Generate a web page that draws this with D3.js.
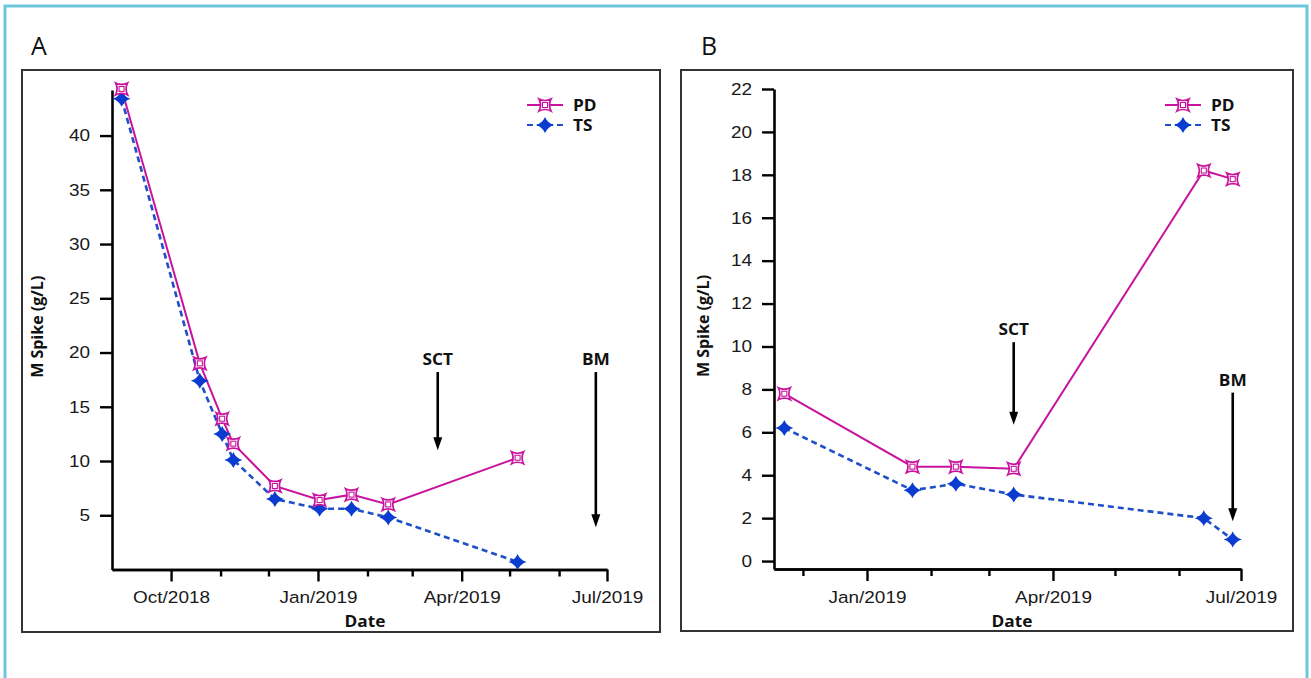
<!DOCTYPE html>
<html>
<head>
<meta charset="utf-8">
<script src="https://cdn.jsdelivr.net/npm/d3@7"></script>
<style>
	body{ margin:0; background:#ffffff; }
</style>
</head>
<body>
<div id="chart"></div>
<script>
"use strict";

// =============== DATA ===============
// panel A
var datesA = ["2018-08-31", "2018-10-19", "2018-11-02", "2018-11-09", "2018-12-05",
	"2019-01-02", "2019-01-22", "2019-02-14", "2019-05-06"];
var pdA = [44.3, 19.0, 13.9, 11.6, 7.7, 6.4, 6.9, 6.0, 10.3];
var tsA = [43.4, 17.4, 12.5, 10.1, 6.5, 5.6, 5.6, 4.8, 0.7];
var eventNamesA = ["SCT", "BM"];
var eventDatesA = ["2019-03-17", "2019-06-24"];
var yTicksA = [5, 10, 15, 20, 25, 30, 35, 40];

// panel B
var datesB = ["2018-11-22", "2019-01-23", "2019-02-13", "2019-03-13", "2019-06-13", "2019-06-27"];
var pdB = [7.8, 4.4, 4.4, 4.3, 18.2, 17.8];
var tsB = [6.2, 3.3, 3.6, 3.1, 2.0, 1.0];
var eventNamesB = ["SCT", "BM"];
var eventDatesB = ["2019-03-13", "2019-06-27"];
var yTicksB = [0, 2, 4, 6, 8, 10, 12, 14, 16, 18, 20, 22];

var seriesNames = ["PD", "TS"];
var xTickLabels = ["Oct/2018", "Jan/2019", "Apr/2019", "Jul/2019"];

// =============== STYLE ===============
var pdColor = "#c8139d",
	tsColor = "#0a3cd0",
	tsLineColor = "#1f4fc8",
	boxColor = "#333333",
	frameColor = "#6cc7dd",
	tickFont = "'Liberation Sans', Arial, sans-serif",
	boldFont = "'Open Sans', sans-serif",
	stretch = 1.15;

var parseDate = d3.timeParse("%Y-%m-%d");
var fmtDate = d3.timeFormat("%b/%Y");

var svg = d3.select("#chart").append("svg")
	.attr("width", 1311)
	.attr("height", 678);

// light blue outer frame (bottom edge runs off the page)
svg.append("rect")
	.attr("x", 5).attr("y", 6)
	.attr("width", 1302).attr("height", 720)
	.style("fill", "none")
	.style("stroke", frameColor)
	.style("stroke-width", 3);

// marker shapes
var pdMarkerPath = "M-6,-6 Q0,-3 6,-6 Q3,0 6,6 Q0,3 -6,6 Q-3,0 -6,-6 Z";
var tsMarkerPath = "M0,-8 Q2.3,-2.3 9,0 Q2.3,2.3 0,8 Q-2.3,2.3 -9,0 Q-2.3,-2.3 0,-8 Z";

function drawPdMarker(sel){
	sel.append("path")
		.attr("d", pdMarkerPath)
		.style("fill", "#ffffff")
		.style("stroke", pdColor)
		.style("stroke-width", 1.7);
	sel.append("rect")
		.attr("x", -2.5).attr("y", -2.5)
		.attr("width", 5).attr("height", 5)
		.style("fill", "none")
		.style("stroke", pdColor)
		.style("stroke-width", 1.1);
}

function drawTsMarker(sel){
	sel.append("path")
		.attr("d", tsMarkerPath)
		.style("fill", tsColor);
}

// =============== PANELS ===============
var panels = [
	{
		letter: "A", letterX: 31, box: [22, 70, 660, 632],
		dates: datesA, pd: pdA, ts: tsA,
		eventNames: eventNamesA, eventDates: eventDatesA,
		// arrow extents in data units: [label, top, tip]
		arrows: [[19.4, 18.2, 11.0], [19.4, 18.2, 3.9]],
		yTicks: yTicksA, yDomain: [0, 44.2],
		xDomain: ["2018-08-25", "2019-07-01"],
		left: 112, right: 607, top: 90, bottom: 569.5,
		legendX: 527, legendY: 105,
		yTitleX: 37, dateX: 365
	},
	{
		letter: "B", letterX: 701, box: [681, 70, 1293, 631],
		dates: datesB, pd: pdB, ts: tsB,
		eventNames: eventNamesB, eventDates: eventDatesB,
		arrows: [[10.8, 10.2, 6.35], [8.4, 7.85, 1.85]],
		yTicks: yTicksB, yDomain: [-0.37, 22],
		xDomain: ["2018-11-17", "2019-07-01"],
		left: 774, right: 1241, top: 89, bottom: 569,
		legendX: 1165, legendY: 105,
		yTitleX: 703, dateX: 1012
	}
];

panels.forEach(drawPanel);

function drawPanel(p){
	var g = svg.append("g");

	// panel box
	g.append("rect")
		.attr("x", p.box[0]).attr("y", p.box[1])
		.attr("width", p.box[2] - p.box[0])
		.attr("height", p.box[3] - p.box[1])
		.style("fill", "none")
		.style("stroke", boxColor)
		.style("stroke-width", 2);

	g.append("text")
		.attr("x", p.letterX).attr("y", 55)
		.style("font-family", "'Open Sans', sans-serif")
		.style("font-size", "25px")
		.style("fill", "#111")
		.text(p.letter);

	var x = d3.scaleTime()
		.domain([parseDate(p.xDomain[0]), parseDate(p.xDomain[1])])
		.range([p.left, p.right]);
	var y = d3.scaleLinear()
		.domain(p.yDomain)
		.range([p.bottom, p.top]);

	// ---- x axis: monthly minor ticks, quarterly labelled ticks
	var months = d3.timeMonth.range(parseDate("2018-09-02"), parseDate("2019-07-02"))
		.filter(function(d){ return x(d) > p.left + 2; });
	var majors = xTickLabels.map(function(s){ return d3.timeParse("%b/%Y")(s); })
		.filter(function(d){ return x(d) >= p.left; });
	var minors = months.filter(function(d){ return d.getMonth() % 3 != 0; });

	var xMinor = g.append("g")
		.attr("transform", "translate(0," + p.bottom + ")")
		.call(d3.axisBottom(x).tickValues(minors).tickSize(7).tickSizeOuter(0).tickFormat(""));
	var xMajor = g.append("g")
		.attr("transform", "translate(0," + p.bottom + ")")
		.call(d3.axisBottom(x).tickValues(majors).tickSize(12).tickSizeOuter(0)
			.tickPadding(10).tickFormat(fmtDate));

	// ---- y axis
	var yAxis = g.append("g")
		.attr("transform", "translate(" + p.left + ",0)")
		.call(d3.axisLeft(y).tickValues(p.yTicks).tickSize(12).tickSizeOuter(0).tickPadding(7));

	[xMinor, xMajor, yAxis].forEach(function(a){
		a.select(".domain").style("stroke", "#000").style("stroke-width", 2.6);
		a.selectAll(".tick line").style("stroke", "#000").style("stroke-width", 2.4);
		a.selectAll(".tick text")
			.style("font-family", tickFont)
			.style("font-size", "16.5px")
			.style("fill", "#1a1a1a")
			.attr("transform", "scale(" + stretch + ",1)");
	});

	// axis titles
	g.append("text")
		.attr("transform", "translate(" + p.yTitleX + "," + ((p.top + p.bottom) / 2 - 3) + ") rotate(-90)")
		.attr("text-anchor", "middle")
		.attr("dy", "0.35em")
		.style("font-family", boldFont)
		.style("font-weight", "bold")
		.style("font-size", "16px")
		.style("fill", "#111")
		.text("M Spike (g/L)");

	g.append("text")
		.attr("transform", "translate(" + p.dateX + ",627) scale(1.08,1)")
		.attr("text-anchor", "middle")
		.style("font-family", boldFont)
		.style("font-weight", "bold")
		.style("font-size", "16px")
		.style("fill", "#111")
		.text("Date");

	// ---- series
	var pts = p.dates.map(function(d, i){
		return {date: parseDate(d), pd: p.pd[i], ts: p.ts[i]};
	});

	var tsLine = d3.line()
		.x(function(d){ return x(d.date); })
		.y(function(d){ return y(d.ts); });
	var pdLine = d3.line()
		.x(function(d){ return x(d.date); })
		.y(function(d){ return y(d.pd); });

	g.append("path")
		.datum(pts)
		.attr("d", tsLine)
		.style("fill", "none")
		.style("stroke", tsLineColor)
		.style("stroke-width", 2.6)
		.style("stroke-dasharray", "6,4");

	g.append("path")
		.datum(pts)
		.attr("d", pdLine)
		.style("fill", "none")
		.style("stroke", pdColor)
		.style("stroke-width", 2);

	g.selectAll(".tsMark").data(pts).enter().append("g")
		.attr("class", "tsMark")
		.attr("transform", function(d){ return "translate(" + x(d.date) + "," + y(d.ts) + ")"; })
		.call(drawTsMarker);

	g.selectAll(".pdMark").data(pts).enter().append("g")
		.attr("class", "pdMark")
		.attr("transform", function(d){ return "translate(" + x(d.date) + "," + y(d.pd) + ")"; })
		.call(drawPdMarker);

	// ---- event arrows
	p.eventNames.forEach(function(name, i){
		var ex = x(parseDate(p.eventDates[i])),
			a = p.arrows[i],
			yLab = y(a[0]), yTop = y(a[1]), yTip = y(a[2]);

		g.append("text")
			.attr("transform", "translate(" + ex + "," + (yLab + 5.5) + ") scale(1.08,1)")
			.attr("text-anchor", "middle")
			.style("font-family", boldFont)
			.style("font-weight", "bold")
			.style("font-size", "16px")
			.style("fill", "#111")
			.text(name);

		g.append("line")
			.attr("x1", ex).attr("x2", ex)
			.attr("y1", yTop).attr("y2", yTip - 10)
			.style("stroke", "#000")
			.style("stroke-width", 2.6);

		g.append("path")
			.attr("d", "M" + (ex - 4.5) + "," + (yTip - 13) + " L" + (ex + 4.5) + "," + (yTip - 13) +
				" L" + ex + "," + yTip + " Z")
			.style("fill", "#000");
	});

	// ---- legend
	var leg = g.append("g")
		.attr("transform", "translate(" + p.legendX + "," + p.legendY + ")");

	seriesNames.forEach(function(s, i){
		var row = leg.append("g").attr("transform", "translate(0," + (i * 20) + ")");
		row.append("line")
			.attr("x1", 0).attr("x2", 36)
			.style("stroke", s == "PD" ? pdColor : tsLineColor)
			.style("stroke-width", 2.2)
			.style("stroke-dasharray", s == "PD" ? null : "6,4");
		var m = row.append("g").attr("transform", "translate(18,0)");
		if(s == "PD"){ drawPdMarker(m); } else { drawTsMarker(m); }
		row.append("text")
			.attr("transform", "translate(46,5.5) scale(1.08,1)")
			.style("font-family", boldFont)
			.style("font-weight", "bold")
			.style("font-size", "16px")
			.style("fill", "#111")
			.text(s);
	});
}
</script>
</body>
</html>
